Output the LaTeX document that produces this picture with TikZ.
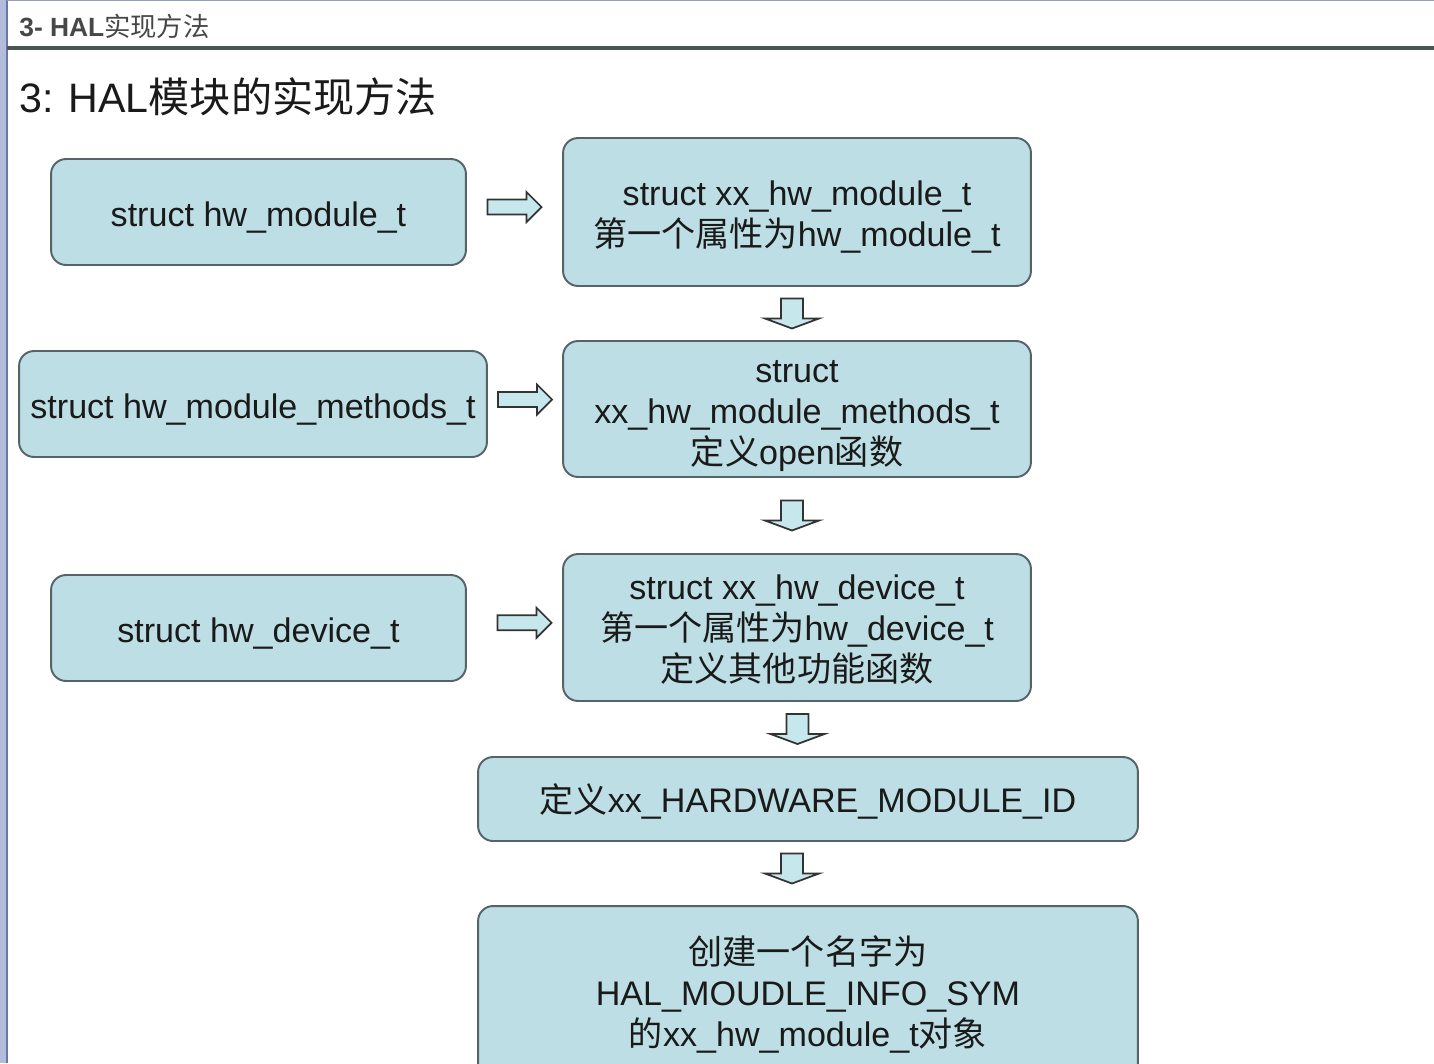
\documentclass[tikz,border=0pt]{standalone}
\usepackage{fontspec}
\setmainfont{Liberation Sans}
\newfontfamily\cjk{Noto Sans CJK SC}
\newcommand\zh[1]{{\cjk #1}}
\newcommand\bt[2][0.1cm]{\raisebox{-#1}[\height][\depth]{\begin{tabular}{@{}c@{}}#2\end{tabular}}}
\usetikzlibrary{calc}
\definecolor{boxfill}{HTML}{BCDEE4}
\definecolor{boxline}{HTML}{56646A}
\definecolor{arrfill}{HTML}{C6E8EC}
\definecolor{textc}{HTML}{1A1A1A}
\definecolor{sidebar}{HTML}{B2BCDC}
\definecolor{sideline}{HTML}{6A78A6}
\definecolor{hdrline}{HTML}{4A5652}
\tikzset{
  box/.style={draw=boxline, line width=1.1pt, fill=boxfill, rounded corners=0.3cm,
    align=center, text=textc, inner sep=0pt,
    font=\fontsize{19.4}{23.3}\selectfont},
  blockarrow/.style={draw=black!80, line width=1pt, fill=arrfill, line join=miter},
  rarr/.pic={\draw[blockarrow] (-27,-7.5) -- (12,-7.5) -- (12,-15) -- (27,0) -- (12,15) -- (12,7.5) -- (-27,7.5) -- cycle;},
  darr/.pic={\draw[blockarrow] (-11,-15) -- (11,-15) -- (11,5) -- (27,5) -- (0,15) -- (-27,5) -- (-11,5) -- cycle;}
}
\begin{document}
\begin{tikzpicture}[x=0.02cm,y=-0.02cm]
\useasboundingbox (0,0) rectangle (1434,1063);
\clip (0,0) rectangle (1434,1063);
\fill[white] (0,0) rectangle (1434,1063);
% frame
\fill[sidebar] (0,0) rectangle (6,1063);
\draw[sideline, line width=1pt] (7,0) -- (7,1063);
\draw[sideline!70, line width=1pt] (7,0.5) -- (1434,0.5);
\draw[hdrline, line width=2pt] (7,48) -- (1434,48);
% header and title
\node[anchor=west, inner sep=0pt, text=black!72] (hdr) at (19,26)
  {\fontsize{15}{17}\selectfont\textbf{3- HAL}\zh{实现方法}};
\node[anchor=west, inner sep=0pt, text=textc] (title) at (19,97)
  {\fontsize{23.4}{28}\selectfont 3: HAL\zh{模块的实现方法}};
% boxes
\node[box, minimum width=8.3cm, minimum height=2.12cm] (b1) at (258.5,212)
  {\bt[0.12cm]{struct hw\_module\_t}};
\node[box, minimum width=9.36cm, minimum height=2.96cm] (b2) at (797,212)
  {\bt[0.12cm]{struct xx\_hw\_module\_t\\\zh{第一个属性为}hw\_module\_t}};
\node[box, minimum width=9.36cm, minimum height=2.12cm] (b3) at (253,404)
  {\bt[0.12cm]{struct hw\_module\_methods\_t}};
\node[box, minimum width=9.36cm, minimum height=2.72cm] (b4) at (797,409)
  {\bt[0.13cm]{struct\\xx\_hw\_module\_methods\_t\\\zh{定义}open\zh{函数}}};
\node[box, minimum width=8.3cm, minimum height=2.12cm] (b5) at (258.5,628)
  {\bt[0.12cm]{struct hw\_device\_t}};
\node[box, minimum width=9.36cm, minimum height=2.94cm] (b6) at (797,627.5)
  {\bt[0.1cm]{struct xx\_hw\_device\_t\\\zh{第一个属性为}hw\_device\_t\\\zh{定义其他功能函数}}};
\node[box, minimum width=13.2cm, minimum height=1.68cm] (b7) at (808,799)
  {\bt[0.1cm]{\zh{定义}xx\_HARDWARE\_MODULE\_ID}};
\node[box, minimum width=13.2cm, minimum height=3.48cm] (b8) at (808,993)
  {\bt[0.08cm]{\zh{创建一个名字为}\\HAL\_MOUDLE\_INFO\_SYM\\\zh{的}xx\_hw\_module\_t\zh{对象}}};
% connectors (block arrows)
\pic at ($(b1.east)!0.5!(b2.west)+(0,-5)$) {rarr};
\pic at ($(b3.east)!0.5!(b4.west)+(0,-7)$) {rarr};
\pic at ($(b5.east)!0.5!(b6.west)+(10,-5)$) {rarr};
\pic at ($(b2.south)!0.5!(b4.north)+(-5,0)$) {darr};
\pic at ($(b4.south)!0.5!(b6.north)+(-5,0)$) {darr};
\pic at ($(b6.south)!0.5!(b7.north)+(-5,0)$) {darr};
\pic at ($(b7.south)!0.5!(b8.north)+(-16,-5)$) {darr};
\end{tikzpicture}
\end{document}
